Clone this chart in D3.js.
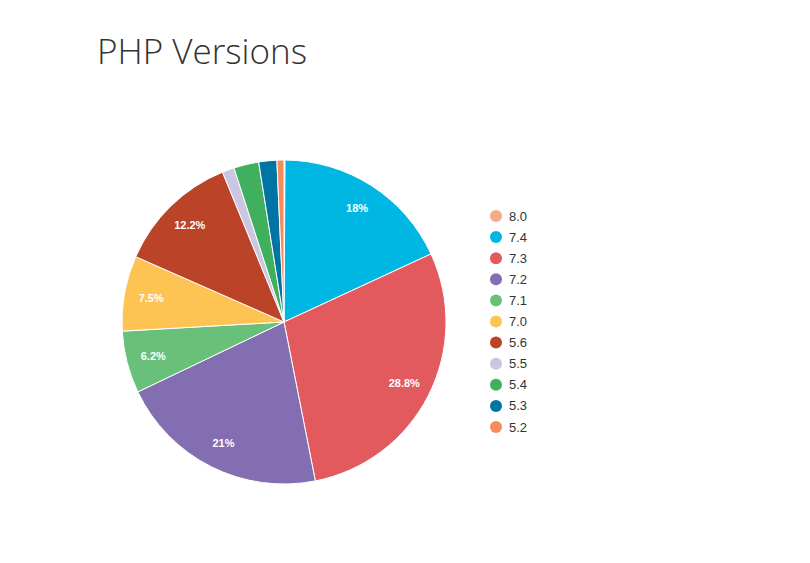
<!doctype html>
<html>
  <head>
    <script src="https://cdnjs.cloudflare.com/ajax/libs/d3/7.8.5/d3.min.js"></script>
    <style>
      body { margin: 0; background: #fff; }
    </style>
  </head>
  <body>
    <svg id="chart" width="810" height="563"></svg>
    <script>
      // PHP version share, clockwise from 12 o'clock
      var versions = ["8.0", "7.4", "7.3", "7.2", "7.1", "7.0", "5.6", "5.5", "5.4", "5.3", "5.2"];
      var shares = [0.1, 18.0, 28.8, 21.0, 6.2, 7.5, 12.2, 1.2, 2.5, 1.8, 0.7];
      var colors = ["#f7a98a", "#00b7e4", "#e25a5e", "#826eb0", "#69c07b", "#fec453",
                    "#bb4428", "#cbc6e1", "#41b05e", "#0075a3", "#f68c5b"];

      var svg = d3.select("#chart");
      var cx = 284, cy = 322, r = 162, labelR = 135;

      svg.append("text")
        .attr("x", 97).attr("y", 64)
        .attr("font-family", "Open Sans")
        .attr("font-weight", 300)
        .attr("font-size", 35)
        .attr("fill", "#333")
        .text("PHP Versions");

      var data = versions.map((v, i) => ({version: v, share: shares[i], color: colors[i]}));
      var pie = d3.pie().sort(null).value(d => d.share);
      var arc = d3.arc().innerRadius(0).outerRadius(r);
      var labelArc = d3.arc().innerRadius(labelR).outerRadius(labelR);

      var g = svg.append("g").attr("transform", "translate(" + cx + "," + cy + ")");
      var arcs = pie(data);

      g.selectAll("path").data(arcs).enter().append("path")
        .attr("d", arc)
        .attr("fill", d => d.data.color)
        .attr("stroke", "#fff")
        .attr("stroke-width", 1);

      // only the bigger slices get a label
      g.selectAll("text").data(arcs.filter(d => d.data.share >= 5)).enter().append("text")
        .attr("transform", d => "translate(" + labelArc.centroid(d) + ")")
        .attr("text-anchor", "middle")
        .attr("dominant-baseline", "central")
        .attr("font-family", "Liberation Sans, Arial, sans-serif")
        .attr("font-weight", "bold")
        .attr("font-size", 11)
        .attr("fill", "#fff")
        .text(d => d.data.share + "%");

      // legend
      var legendY = d3.scalePoint().domain(versions).range([216, 427]);
      var legend = svg.append("g").selectAll("g").data(data).enter().append("g")
        .attr("transform", d => "translate(496," + legendY(d.version) + ")");
      legend.append("circle").attr("r", 6).attr("fill", d => d.color);
      legend.append("text")
        .attr("x", 13)
        .attr("dominant-baseline", "central")
        .attr("font-family", "Liberation Sans, Arial, sans-serif")
        .attr("font-size", 13)
        .attr("fill", "#333")
        .text(d => d.version);
    </script>
  </body>
</html>
